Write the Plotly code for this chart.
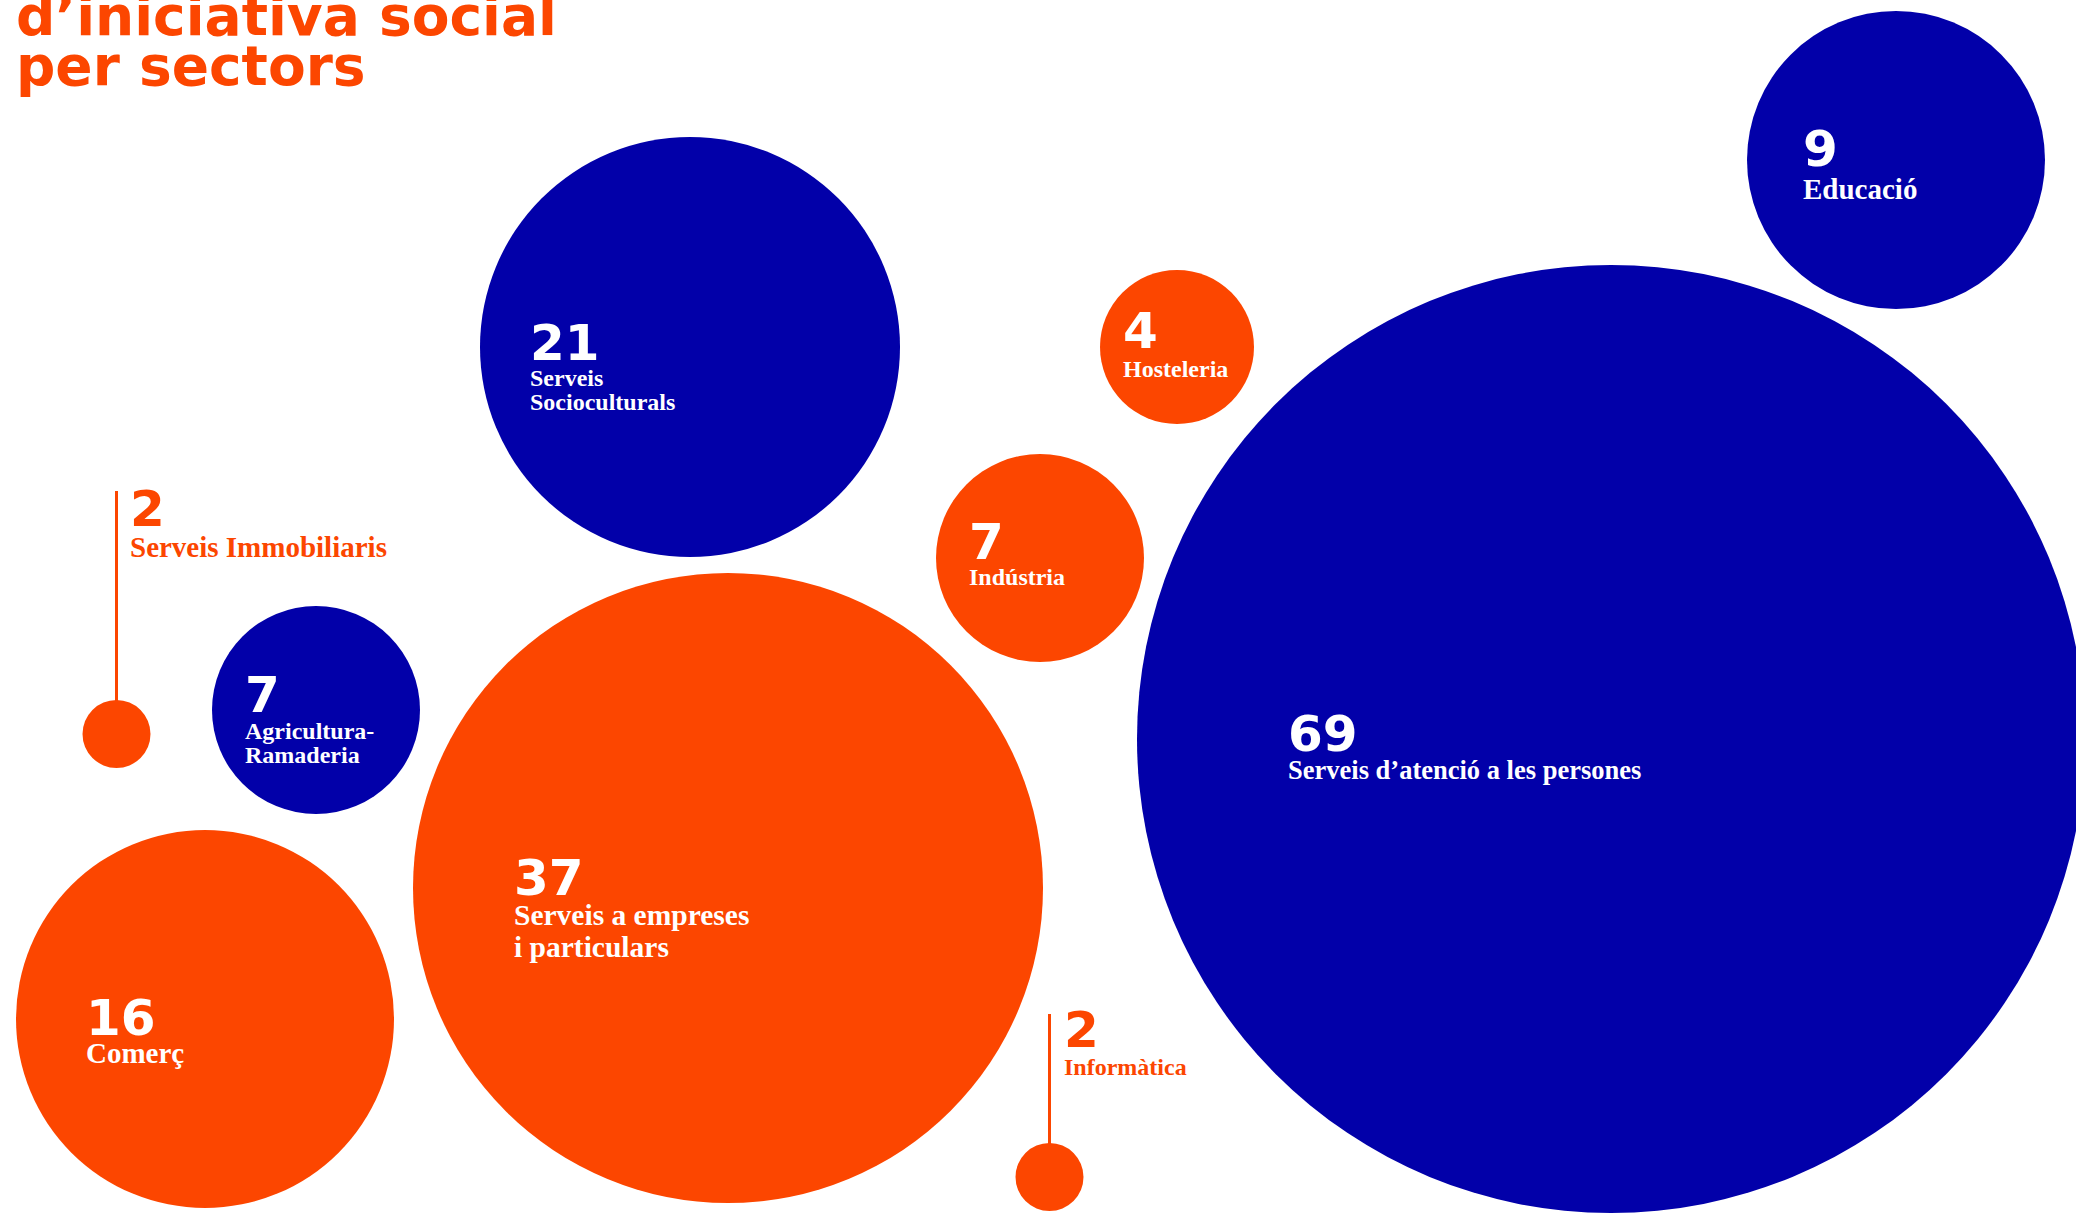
import plotly.graph_objects as go

# ---------------- data ----------------
sectors = [
    "Educació",
    "Serveis Socioculturals",
    "Hosteleria",
    "Indústria",
    "Serveis d’atenció a les persones",
    "Serveis Immobiliaris",
    "Agricultura-Ramaderia",
    "Serveis a empreses i particulars",
    "Comerç",
    "Informàtica",
]
counts = [9, 21, 4, 7, 69, 2, 7, 37, 16, 2]
label_lines = [
    ["Educació"],
    ["Serveis", "Socioculturals"],
    ["Hosteleria"],
    ["Indústria"],
    ["Serveis d’atenció a les persones"],
    ["Serveis Immobiliaris"],
    ["Agricultura-", "Ramaderia"],
    ["Serveis a empreses", "i particulars"],
    ["Comerç"],
    ["Informàtica"],
]
color_group = ["blue", "blue", "orange", "orange", "blue",
               "orange", "blue", "orange", "orange", "orange"]
title_lines = ["d’iniciativa social", "per sectors"]

# ---------------- layout (pixel positions of the packed bubbles) ----------------
W, H = 2076, 1213
bubble_cx = [1896, 690, 1177, 1040, 1611, 116.5, 316, 728, 205, 1049.5]
bubble_cy = [160, 347, 347, 558, 739, 734, 710, 888, 1019, 1177]
bubble_r = [149, 210, 77, 104, 474, 34, 104, 315, 189, 34]
callout_top = [None, None, None, None, None, 491, None, None, None, 1014]
text_x = [1803, 530, 1123, 969, 1288, 130, 245, 514, 86, 1064]
num_cy = [149, 342.5, 331, 541.5, 734, 508.5, 694.5, 878, 1017.5, 1029.5]
label_base = [199, 386, 377, 585, 779, 557, 739, 925, 1063, 1075]
label_size = [29, 24, 24, 24, 26.5, 29, 24, 29.5, 29, 24]
label_gap = [0, 24, 0, 0, 0, 0, 24, 32, 0, 0]

ORANGE = "#FC4600"
BLUE = "#0200A9"
WHITE = "#FFFFFF"
palette = {"blue": BLUE, "orange": ORANGE}
NUM_FONT = "DejaVu Sans"
LABEL_FONT = "Liberation Serif"
NUM_SIZE = 50

fig = go.Figure()

# callout lines
for i in range(len(counts)):
    if callout_top[i] is not None:
        fig.add_trace(go.Scatter(
            x=[bubble_cx[i], bubble_cx[i]], y=[callout_top[i], bubble_cy[i]],
            mode="lines", line=dict(color=palette[color_group[i]], width=3),
            hoverinfo="skip", showlegend=False))

# bubbles
fig.add_trace(go.Scatter(
    x=bubble_cx, y=bubble_cy, mode="markers",
    marker=dict(size=[2 * r for r in bubble_r], sizemode="diameter",
                color=[palette[g] for g in color_group], opacity=1,
                line=dict(width=0)),
    text=[f"{s}: {c}" for s, c in zip(sectors, counts)],
    hoverinfo="text", showlegend=False))

annotations = []
for i in range(len(counts)):
    txt_color = palette[color_group[i]] if callout_top[i] is not None else WHITE
    annotations.append(dict(
        x=text_x[i], y=num_cy[i], xref="x", yref="y", text=str(counts[i]),
        showarrow=False, xanchor="left", yanchor="middle",
        borderpad=0, borderwidth=0,
        font=dict(family=NUM_FONT, size=NUM_SIZE, color=txt_color, weight="bold")))
    for k, line in enumerate(label_lines[i]):
        base = label_base[i] + k * label_gap[i]
        annotations.append(dict(
            x=text_x[i], y=base - 0.3375 * label_size[i], xref="x", yref="y",
            text=line, showarrow=False, xanchor="left", yanchor="middle",
            borderpad=0, borderwidth=0,
            font=dict(family=LABEL_FONT, size=label_size[i], color=txt_color,
                      weight="bold")))

# title (partially cut at the top edge, as in the source)
title_base = [35, 85]
TITLE_SIZE = 55
for k, line in enumerate(title_lines):
    annotations.append(dict(
        x=16, y=title_base[k] - 0.346 * TITLE_SIZE, xref="x", yref="y",
        text=line, showarrow=False, xanchor="left", yanchor="middle",
        borderpad=0, borderwidth=0,
        font=dict(family=NUM_FONT, size=TITLE_SIZE, color=ORANGE, weight="bold")))

fig.update_layout(
    width=W, height=H,
    margin=dict(l=0, r=0, t=0, b=0),
    paper_bgcolor="white", plot_bgcolor="white",
    xaxis=dict(range=[0, W], visible=False, fixedrange=True),
    yaxis=dict(range=[H, 0], visible=False, fixedrange=True),
    annotations=annotations,
    showlegend=False,
)

fig.write_html(
    "out.html",
    config={"displayModeBar": False},
    post_script="document.body.style.margin='0';document.body.style.overflow='hidden';",
)
